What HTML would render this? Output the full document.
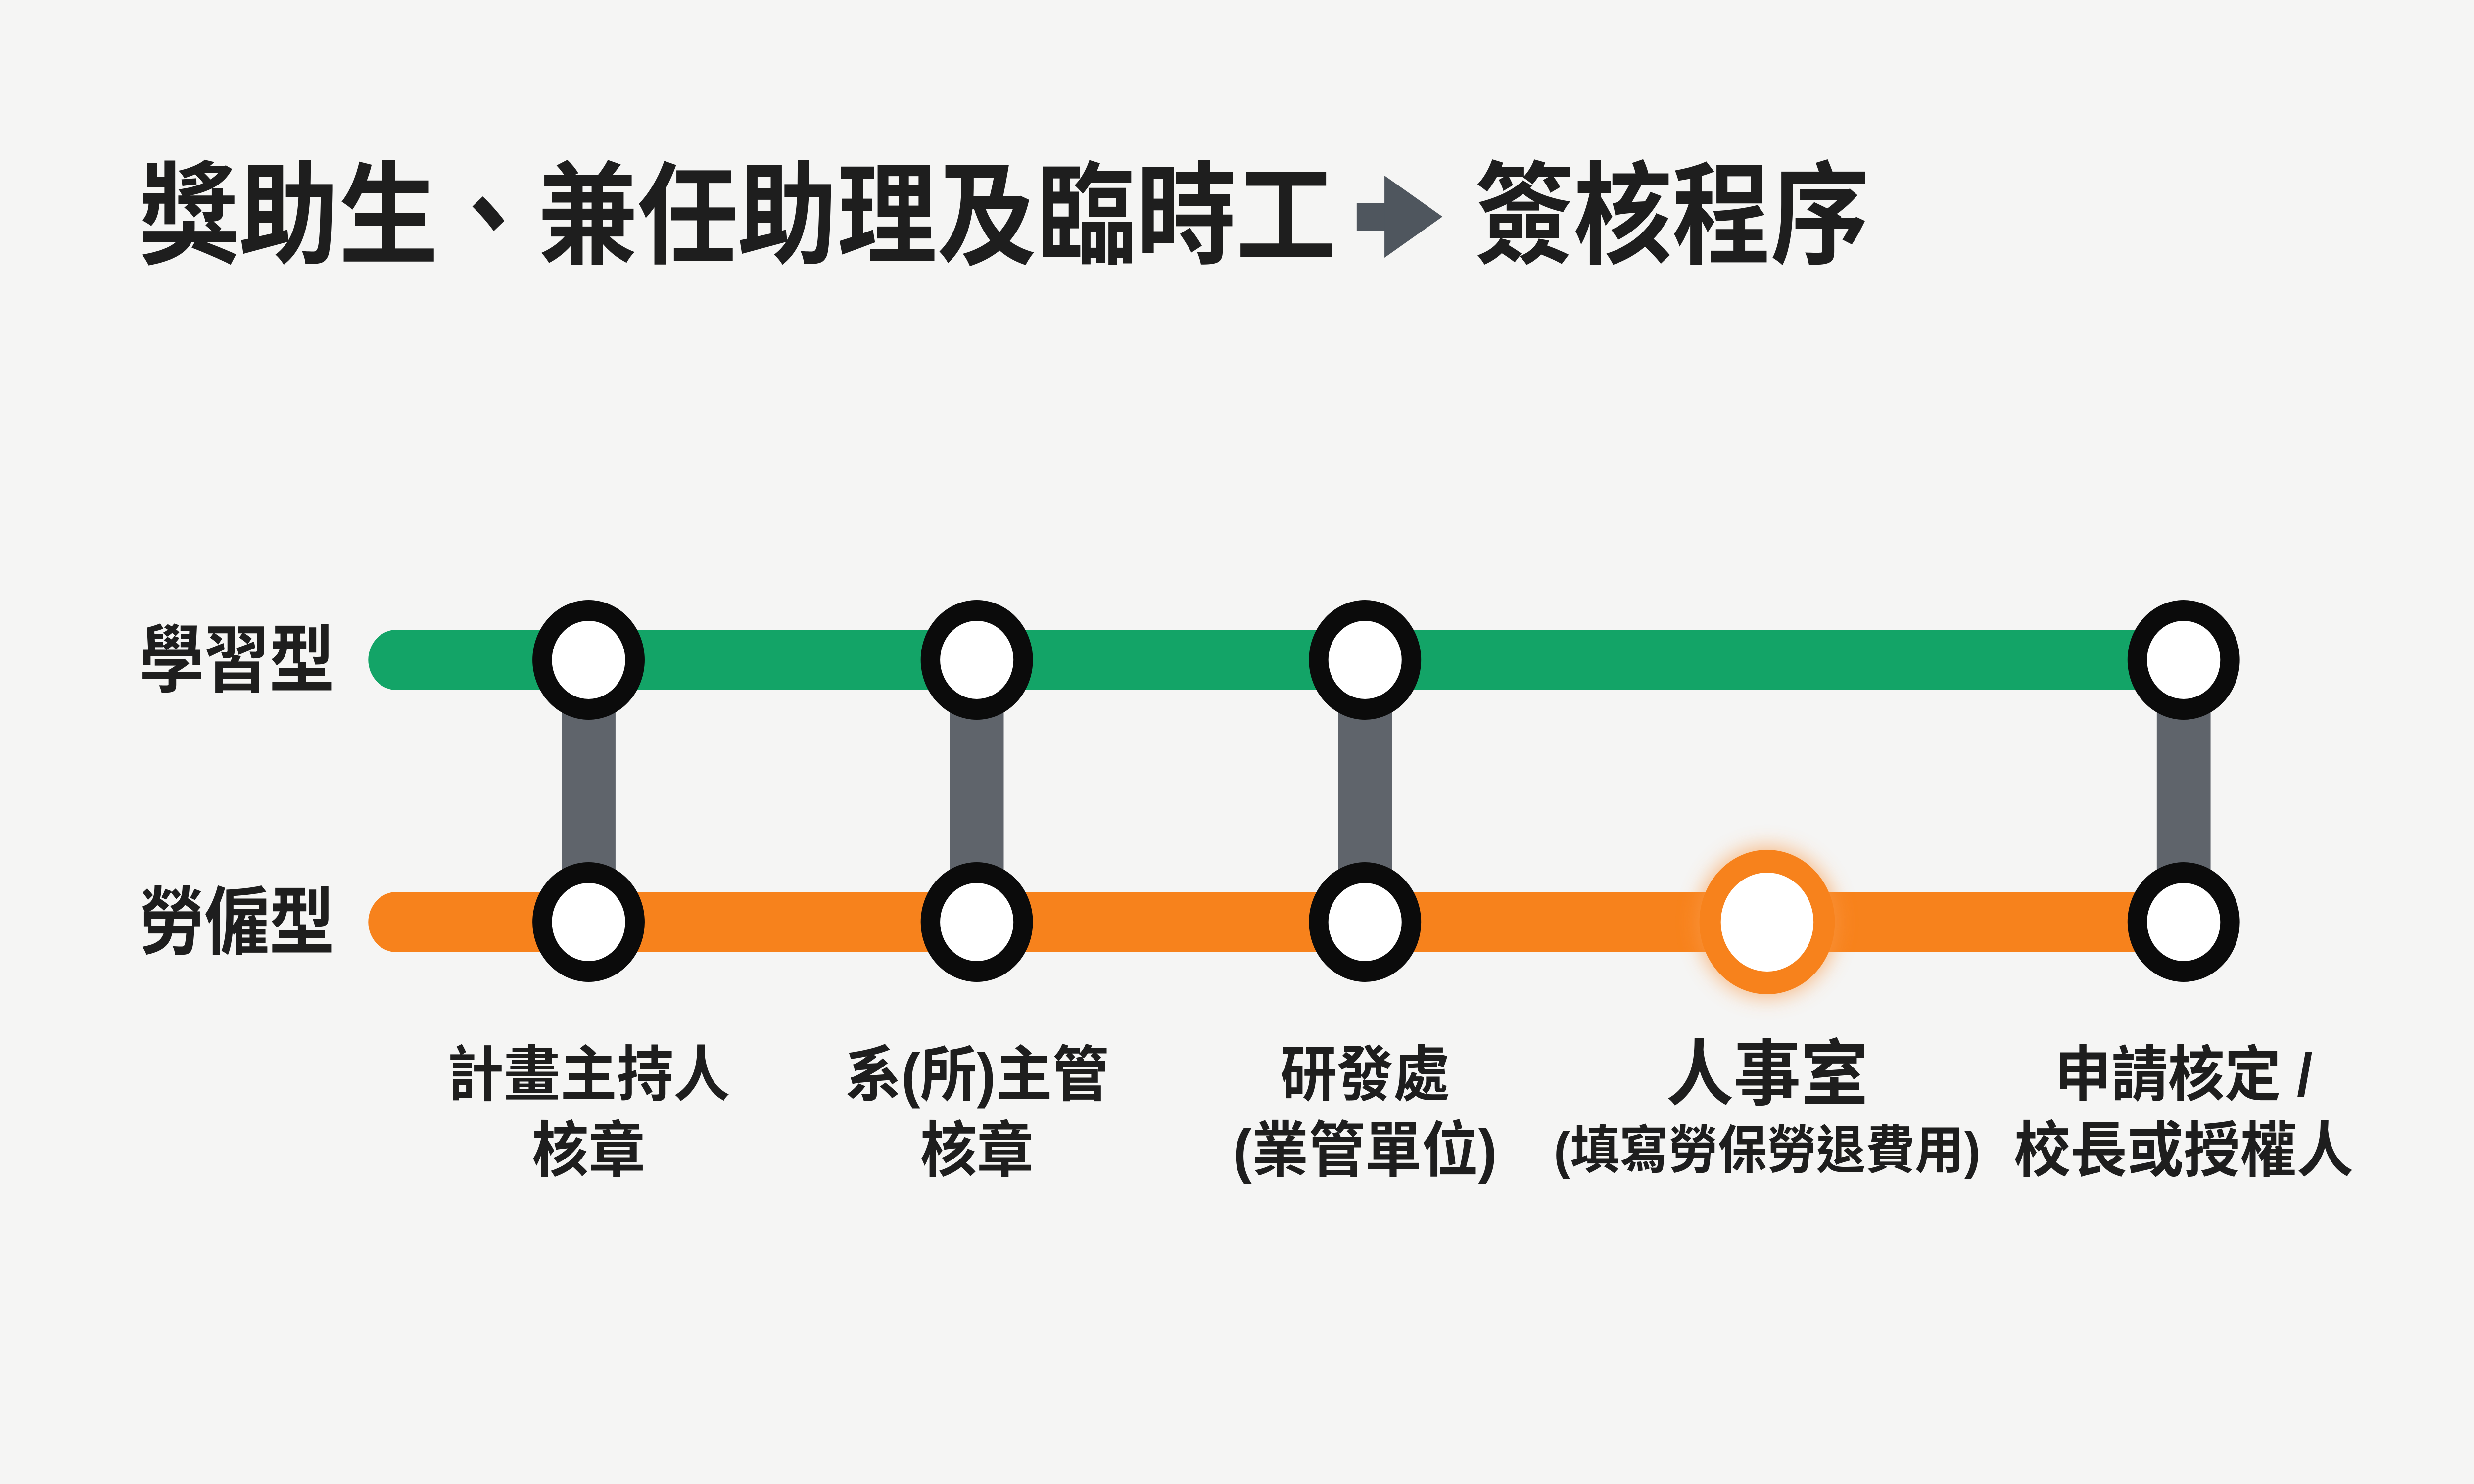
<!DOCTYPE html>
<html><head><meta charset="utf-8"><style>
html,body{margin:0;padding:0;background:#f5f5f4;overflow:hidden;width:100%;height:100%;}
svg{display:block;width:100vw;height:100vh;}
text{font-family:"Liberation Sans","Noto Sans CJK TC",sans-serif;font-weight:bold;fill:#1e1e1e;}
</style></head><body>
<svg viewBox="0 0 5334 3000" preserveAspectRatio="none" xmlns="http://www.w3.org/2000/svg">
<defs>
<filter id="glow" x="-50%" y="-50%" width="200%" height="200%"><feGaussianBlur stdDeviation="22"/></filter>
</defs>
<rect width="5334" height="3000" fill="#f5f5f4"/>
<text x="300" y="515" font-size="225" textLength="2580" lengthAdjust="spacingAndGlyphs">獎助生、兼任助理及臨時工</text>
<g fill="#4f565e"><rect x="2925" y="410" width="100" height="56"/><polygon points="2985,355 3110,438 2985,521"/></g>
<text x="3180" y="515" font-size="225" textLength="850" lengthAdjust="spacingAndGlyphs">簽核程序</text>

<text x="300" y="1387" font-size="150" textLength="421" lengthAdjust="spacingAndGlyphs">學習型</text>
<text x="300" y="1917" font-size="150" textLength="421" lengthAdjust="spacingAndGlyphs">勞僱型</text>

<line x1="855" y1="1334" x2="4700" y2="1334" stroke="#13a467" stroke-width="122" stroke-linecap="round"/>
<line x1="855" y1="1864" x2="4700" y2="1864" stroke="#f7821c" stroke-width="122" stroke-linecap="round"/>

<g fill="#5f646b">
<rect x="1211" y="1334" width="116" height="530"/>
<rect x="2048" y="1334" width="116" height="530"/>
<rect x="2885" y="1334" width="116" height="530"/>
<rect x="4650" y="1334" width="116" height="530"/>
</g>

<g fill="#fff" stroke="#0b0b0b" stroke-width="42">
<circle cx="1269" cy="1334" r="100"/><circle cx="2106" cy="1334" r="100"/><circle cx="2943" cy="1334" r="100"/><circle cx="4708" cy="1334" r="100"/>
<circle cx="1269" cy="1864" r="100"/><circle cx="2106" cy="1864" r="100"/><circle cx="2943" cy="1864" r="100"/><circle cx="4708" cy="1864" r="100"/>
</g>
<circle cx="3810" cy="1864" r="150" fill="#f99a4a" opacity="0.7" filter="url(#glow)"/>
<circle cx="3810" cy="1864" r="123" fill="#fff" stroke="#f7821c" stroke-width="46"/>

<g font-size="122" text-anchor="middle">
<text x="1269" y="2215">計畫主持人</text><text x="1269" y="2368">核章</text>
<text x="2106" y="2215">系(所)主管</text><text x="2106" y="2368">核章</text>
<text x="2943" y="2215">研發處</text><text x="2943" y="2368">(業管單位)</text>
<text x="3810" y="2222" font-size="145">人事室</text>
<text x="3810" y="2362" font-size="105" textLength="920" lengthAdjust="spacingAndGlyphs">(填寫勞保勞退費用)</text>
<text x="4708" y="2215">申請核定 /</text><text x="4708" y="2368">校長或授權人</text>
</g>
</svg>
</body></html>
